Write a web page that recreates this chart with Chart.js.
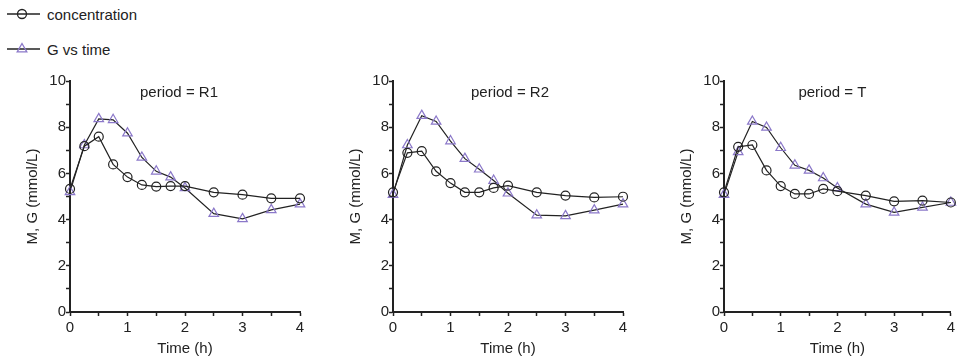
<!DOCTYPE html>
<html>
<head>
<meta charset="utf-8">
<script src="https://cdn.jsdelivr.net/npm/chart.js@4.4.0/dist/chart.umd.min.js"></script>
<style>
  body { margin: 0; width: 958px; height: 360px; overflow: hidden; position: relative; background: #fff;
         font-family: "Liberation Sans", Arial, sans-serif; color: #222; }
  .legend-item { position: absolute; left: 6px; height: 20px; display: flex; align-items: center; font-size: 15px; }
  .legend-item svg { margin-right: 7px; }
  .panel { position: absolute; top: 60px; height: 300px; }
</style>
</head>
<body>

<div class="legend-item" style="top:4px">
  <svg width="34" height="20"><line x1="1" y1="10" x2="34" y2="10" stroke="#222" stroke-width="1.3"/>
    <circle cx="16" cy="10" r="4.5" fill="none" stroke="#222" stroke-width="1.3"/></svg>
  concentration
</div>
<div class="legend-item" style="top:39px">
  <svg width="34" height="20"><line x1="1" y1="10" x2="34" y2="10" stroke="#222" stroke-width="1.3"/>
    <polygon points="16,4.5 20.8,12.8 11.2,12.8" fill="none" stroke="#8b78c9" stroke-width="1.3"/></svg>
  G vs time
</div>

<div class="panel" style="left:0;width:310px"><canvas id="c-r1"></canvas></div>
<div class="panel" style="left:323px;width:310px"><canvas id="c-r2"></canvas></div>
<div class="panel" style="left:654px;width:304px"><canvas id="c-t"></canvas></div>

<script>
// ── data ─────────────────────────────────────────────
const times = [0, 0.25, 0.5, 0.75, 1, 1.25, 1.5, 1.75, 2, 2.5, 3, 3.5, 4];

const r1Conc = [5.33, 7.18, 7.59, 6.39, 5.84, 5.50, 5.43, 5.45, 5.45, 5.18, 5.08, 4.92, 4.92];
const r1G    = [5.20, 7.23, 8.36, 8.32, 7.74, 6.69, 6.09, 5.84, 5.37, 4.26, 4.03, 4.42, 4.67];

const r2Conc = [5.18, 6.89, 6.96, 6.09, 5.58, 5.18, 5.18, 5.37, 5.47, 5.18, 5.04, 4.96, 4.99];
const r2G    = [5.08, 7.23, 8.50, 8.25, 7.40, 6.64, 6.18, 5.69, 5.14, 4.19, 4.16, 4.41, 4.67];

const tConc  = [5.18, 7.15, 7.23, 6.13, 5.45, 5.11, 5.11, 5.33, 5.23, 5.04, 4.79, 4.82, 4.74];
const tG     = [5.08, 6.93, 8.25, 7.99, 7.11, 6.35, 6.13, 5.80, 5.37, 4.67, 4.31, 4.53, 4.74];

const seriesLabels = ['concentration', 'G vs time'];
const xTitle = 'Time (h)';
const yTitle = 'M, G (mmol/L)';

// ── style ────────────────────────────────────────────
const INK = '#222';
const PURPLE = '#8b78c9';
const FONT = { family: '"Liberation Sans", Arial, sans-serif', size: 15 };

Chart.defaults.font = FONT;
Chart.defaults.color = INK;

// panel caption drawn inside the plot area
const panelTitle = {
  id: 'panelTitle',
  afterDraw(chart, args, opts) {
    const { ctx, chartArea } = chart;
    ctx.save();
    ctx.font = `15px ${FONT.family}`;
    ctx.fillStyle = INK;
    ctx.textAlign = 'center';
    ctx.textBaseline = 'middle';
    ctx.fillText(opts.text, (chartArea.left + chartArea.right) / 2 + (opts.dx || 0), chartArea.top + 12);
    ctx.restore();
  }
};

function toPoints(ys) {
  return times.map((t, i) => ({ x: t, y: ys[i] }));
}

function makePanel(id, caption, conc, g, rightPad, dx) {
  const axisGrid = { display: true, drawOnChartArea: false, drawTicks: true, tickLength: 4, color: INK, tickWidth: 1.5 };
  const axisBorder = { display: true, color: INK, width: 2 };

  return new Chart(document.getElementById(id), {
    type: 'line',
    data: {
      datasets: [
        {
          label: seriesLabels[0],
          data: toPoints(conc),
          borderColor: INK, borderWidth: 1.2,
          pointStyle: 'circle', pointRadius: 4.5,
          pointBorderColor: INK, pointBorderWidth: 1.2,
          pointBackgroundColor: 'rgba(0,0,0,0)',
          tension: 0, clip: false,
        },
        {
          label: seriesLabels[1],
          data: toPoints(g),
          borderColor: INK, borderWidth: 1.2,
          pointStyle: 'triangle', pointRadius: 5.5,
          pointBorderColor: PURPLE, pointBorderWidth: 1.2,
          pointBackgroundColor: 'rgba(0,0,0,0)',
          tension: 0, clip: false,
        },
      ]
    },
    options: {
      responsive: true,
      maintainAspectRatio: false,
      animation: false,
      layout: { padding: { top: 21, right: rightPad, left: 0, bottom: 0 } },
      plugins: {
        legend: { display: false },
        tooltip: { enabled: false },
        panelTitle: { text: caption, dx },
      },
      scales: {
        x: {
          type: 'linear', min: 0, max: 4,
          grid: axisGrid, border: axisBorder,
          ticks: {
            stepSize: 0.5, autoSkip: false, maxRotation: 0, padding: 3,
            callback: v => Number.isInteger(v) ? v : '',
          },
          title: { display: true, text: xTitle, padding: { top: 0, bottom: 2 } },
          afterFit: s => { s.height = 48; },
        },
        y: {
          min: 0, max: 10,
          grid: axisGrid, border: axisBorder,
          ticks: {
            stepSize: 1, autoSkip: false, padding: 0,
            callback: v => v % 2 === 0 ? v : '',
          },
          title: { display: true, text: yTitle, padding: { top: 24, bottom: 0 } },
          afterFit: s => { s.width = 70; },
        },
      },
    },
    plugins: [panelTitle],
  });
}

makePanel('c-r1', 'period = R1', r1Conc, r1G, 10, -6);
makePanel('c-r2', 'period = R2', r2Conc, r2G, 10, 2);
makePanel('c-t',  'period = T',  tConc,  tG,  5, -5);
</script>
</body>
</html>
